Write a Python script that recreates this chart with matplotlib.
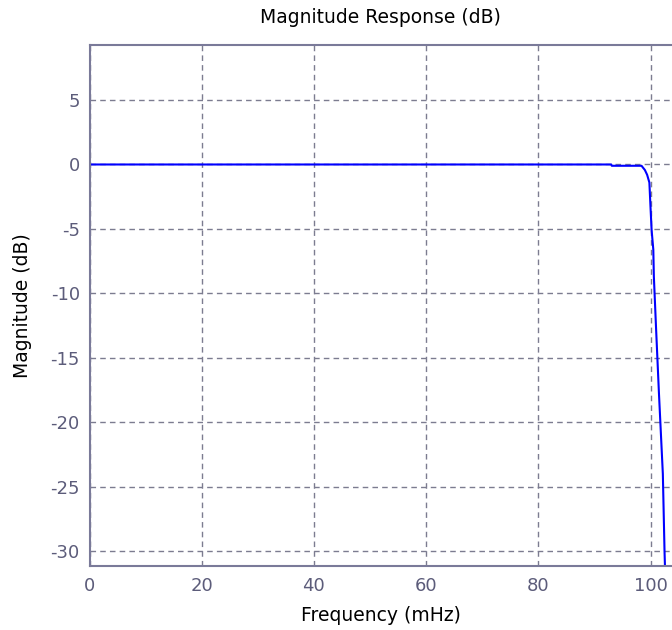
import numpy as np
import matplotlib
matplotlib.use("Agg")
import matplotlib.pyplot as plt

# magnitude response
freq = [0, 93.0, 93.1, 98.4, 99.0, 99.4, 99.8, 100.0, 100.2, 100.5, 100.6,
        101.0, 101.5, 101.7, 102.2, 102.5, 102.7]
mag = [0, 0, -0.1, -0.1, -0.43, -0.8, -1.4, -3.3, -5.1, -6.6, -8.7,
       -12.8, -17.7, -19.5, -24.0, -30.0, -33.0]

xticks = [0, 20, 40, 60, 80, 100]
yticks = [5, 0, -5, -10, -15, -20, -25, -30]

plt.rcParams['font.family'] = ['DejaVu Sans']
plt.rcParams['axes.unicode_minus'] = False

axcol = '#7a7a99'
labcol = '#5c5c7a'

fig = plt.figure(figsize=(6.72, 6.3), dpi=100)
ax = fig.add_axes([89.5 / 672, 1 - 566 / 630, 1 - 89.5 / 672, (566 - 45) / 630])

ax.plot(freq, mag, color='#0000ff', lw=1.5)

ax.set_xlim(0, (672 - 89.5) / 5.61)
ax.set_ylim(-31.15, 9.27)
ax.set_xticks(xticks)
ax.set_yticks(yticks)
ax.grid(True, linestyle=(0, (4, 3)), color='#7c7c90', lw=1.0)
ax.tick_params(direction='in', length=0, colors=labcol, labelsize=13)
ax.tick_params(axis='x', pad=8)
ax.tick_params(axis='y', pad=7)

for s in ['left', 'bottom', 'top']:
    ax.spines[s].set_color(axcol)
    ax.spines[s].set_linewidth(1.5)
ax.spines['right'].set_visible(False)

ax.set_title('Magnitude Response (dB)', fontsize=13.5, pad=15.5)
ax.set_xlabel('Frequency (mHz)', fontsize=13.5, labelpad=8)
ax.set_ylabel('Magnitude (dB)', fontsize=13.5, labelpad=13)

fig.savefig('out.png', dpi=100)
